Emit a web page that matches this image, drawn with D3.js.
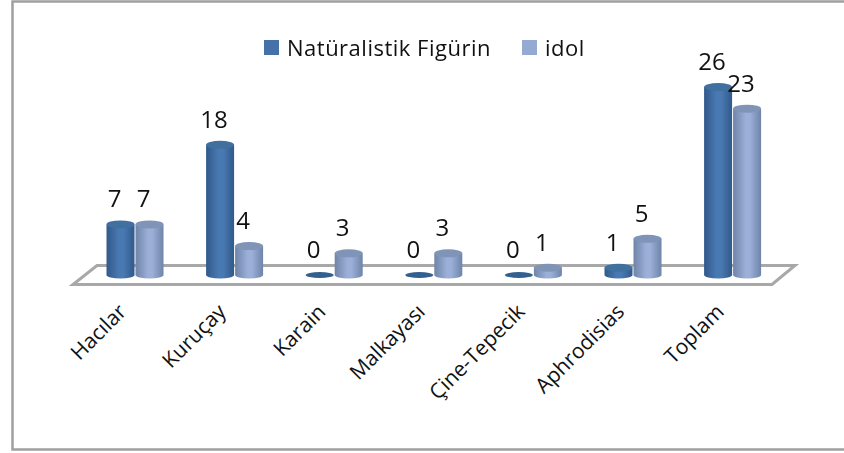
<!DOCTYPE html>
<html>
<head>
<meta charset="utf-8">
<script src="https://cdn.jsdelivr.net/npm/d3@7"></script>
<style>
    html, body { margin: 0; padding: 0; background: #fff; }
    svg { display: block; }
    text { font-family: "Open Sans", sans-serif; fill: #111; }
</style>
</head>
<body>
<div id="chart"></div>
<script>
const categories = ["Hacılar", "Kuruçay", "Karain", "Malkayası", "Çine-Tepecik", "Aphrodisias", "Toplam"];
const seriesNames = ["Natüralistik Figürin", "idol"];
const naturalistik = [7, 18, 0, 0, 0, 1, 26];
const idol = [7, 4, 3, 3, 1, 5, 23];

const size = { width: 844, height: 453 };
const baseY = 275;

const svg = d3.select("#chart").append("svg")
    .attr("width", size.width)
    .attr("height", size.height);

const defs = svg.append("defs");
defs.append("filter").attr("id", "soft")
    .append("feGaussianBlur").attr("stdDeviation", 0.7);

function addGradient(id, edge, mid) {
    const g = defs.append("linearGradient").attr("id", id);
    g.append("stop").attr("offset", "0%").attr("stop-color", edge);
    g.append("stop").attr("offset", "45%").attr("stop-color", mid);
    g.append("stop").attr("offset", "60%").attr("stop-color", mid);
    g.append("stop").attr("offset", "100%").attr("stop-color", edge);
}
addGradient("gradDark", "#30598a", "#4a79b2");
addGradient("gradLight", "#6f84a8", "#9bafd8");

const x0 = d3.scaleBand().domain(categories).range([85.2, 782.4]);
const x1 = d3.scaleBand().domain(seriesNames).range([20.8, 78.8]);
const y = d3.scaleLinear().domain([0, 26]).range([baseY, 87]);

// chart frame, open on the right
svg.append("path")
    .attr("d", `M${size.width},1.5H12.5V449.5H${size.width}`)
    .attr("fill", "none")
    .attr("stroke", "#a0a0a0")
    .attr("stroke-width", 2.5);

// floor
svg.append("path")
    .attr("d", "M97,265.5H795L772,284.5H73Z")
    .attr("fill", "#fff")
    .attr("stroke", "#a8a8a8")
    .attr("stroke-width", 3)
    .attr("filter", "url(#soft)");

// cylinders
const series = [
    { name: seriesNames[0], values: naturalistik, grad: "url(#gradDark)", top: "#41709f", zero: "#33608f" },
    { name: seriesNames[1], values: idol, grad: "url(#gradLight)", top: "#8094b8", zero: "#8094b8" },
];
const rows = series.flatMap((s) => s.values.map((v, i) => ({ s, v, cat: categories[i] })));

const bars = svg.append("g").attr("filter", "url(#soft)")
    .selectAll("g")
    .data(rows)
    .enter()
    .append("g")
    .attr("transform", (d) => `translate(${x0(d.cat) + x1(d.s.name) + x1.bandwidth() / 2}, 0)`);

const rx = x1.bandwidth() / 2 - 0.5;

bars.filter((d) => d.v > 0).append("path")
    .attr("fill", (d) => d.s.grad)
    .attr("d", (d) => `M${-rx},${y(d.v)}V${baseY}A${rx},3.5 0 0 0 ${rx},${baseY}V${y(d.v)}Z`);

bars.append("ellipse")
    .attr("cy", (d) => y(d.v))
    .attr("rx", rx)
    .attr("ry", (d) => d.v > 0 ? 4 : 3)
    .attr("fill", (d) => d.v > 0 ? d.s.top : d.s.zero);

// value labels sit a little left of the bar centre
svg.append("g")
    .selectAll("text")
    .data(rows)
    .enter()
    .append("text")
    .attr("x", (d) => x0(d.cat) + x1(d.s.name) + x1.bandwidth() / 2 - 6)
    .attr("y", (d) => y(d.v) - 17)
    .attr("text-anchor", "middle")
    .attr("font-size", 24)
    .text((d) => d.v);

// category axis
const axis = svg.append("g")
    .attr("transform", "translate(0, 295)")
    .call(d3.axisBottom(x0).tickSize(0));
axis.select(".domain").remove();
axis.selectAll("text")
    .attr("font-size", 21)
    .attr("text-anchor", "end")
    .attr("dx", 0)
    .attr("dy", 0)
    .attr("x", -18)
    .attr("y", 7.5)
    .attr("transform", "rotate(-45)")
    .style("font-family", "'Open Sans', sans-serif");

// legend
const legendX = d3.scaleOrdinal().domain(seriesNames).range([264, 522]);
const legend = svg.append("g")
    .selectAll("g")
    .data(series)
    .enter()
    .append("g")
    .attr("transform", (d) => `translate(${legendX(d.name)}, 40)`);
legend.append("rect")
    .attr("width", 15)
    .attr("height", 15)
    .attr("fill", (d, i) => i === 0 ? "#4472a8" : "#95a9d2");
legend.append("text")
    .attr("x", 23)
    .attr("y", 16)
    .attr("font-size", 22)
    .attr("letter-spacing", 0.5)
    .text((d) => d.name);
</script>
</body>
</html>
